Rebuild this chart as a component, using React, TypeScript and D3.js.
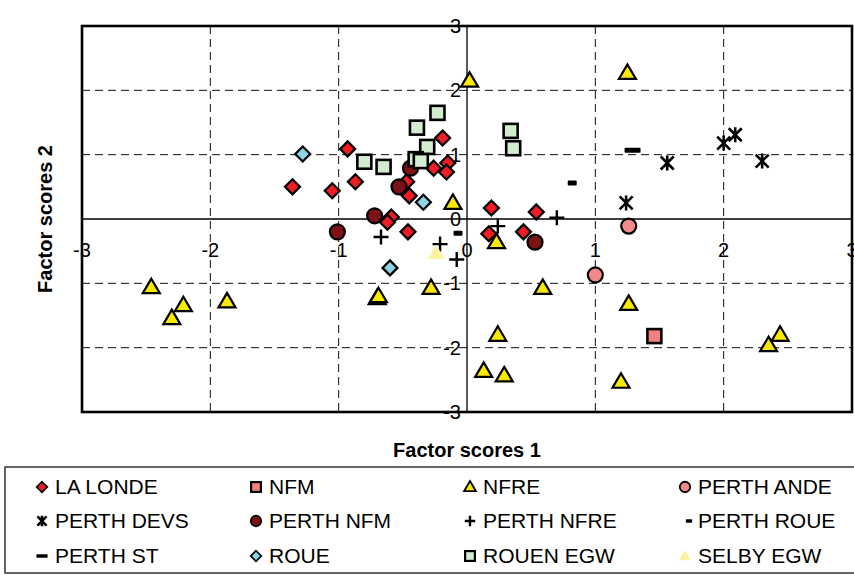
import React from 'react';
import * as d3 from 'd3';

type Pt = [number, number];

// Factor scores (x = factor 1, y = factor 2) per site
const laLonde: Pt[] = [
  [-0.93, 1.09], [-1.36, 0.5], [-1.05, 0.44], [-0.87, 0.58], [-0.19, 1.26],
  [-0.15, 0.87], [-0.26, 0.79], [-0.16, 0.73], [-0.47, 0.58], [-0.45, 0.36],
  [-0.59, 0.03], [-0.62, -0.05], [-0.46, -0.2], [0.19, 0.17], [0.54, 0.11],
  [0.17, -0.23], [0.44, -0.2],
];
const nfm: Pt[] = [[1.46, -1.82]];
const nfre: Pt[] = [
  [-2.46, -1.06], [-2.21, -1.34], [-2.3, -1.54], [-1.87, -1.28], [-0.7, -1.23],
  [-0.69, -1.2], [-0.28, -1.07], [0.23, -0.36], [0.59, -1.07], [0.24, -1.8],
  [0.13, -2.36], [0.29, -2.43], [1.26, -1.32], [1.2, -2.53], [0.02, 2.15],
  [1.25, 2.27], [-0.11, 0.25], [2.35, -1.96], [2.44, -1.8],
];
const perthAnde: Pt[] = [[1.26, -0.11], [1.0, -0.87]];
const perthDevs: Pt[] = [[1.56, 0.87], [2.0, 1.18], [2.09, 1.31], [2.3, 0.9], [1.24, 0.25]];
const perthNfm: Pt[] = [[-0.44, 0.79], [-0.53, 0.5], [-1.01, -0.2], [-0.72, 0.05], [0.53, -0.36]];
const perthNfre: Pt[] = [[-0.67, -0.28], [-0.21, -0.39], [-0.08, -0.63], [0.24, -0.11], [0.7, 0.02]];
const perthRoue: Pt[] = [[0.82, 0.56], [-0.07, -0.22]];
const perthSt: Pt[] = [[1.29, 1.07]];
const roue: Pt[] = [[-1.28, 1.01], [-0.34, 0.26], [-0.6, -0.76]];
const rouenEgw: Pt[] = [
  [-0.8, 0.89], [-0.65, 0.81], [-0.39, 1.42], [-0.31, 1.12], [-0.23, 1.65],
  [-0.4, 0.93], [-0.36, 0.9], [0.34, 1.37], [0.36, 1.1],
];
const selbyEgw: Pt[] = [[-0.24, -0.53]];

const xTicks = [-3, -2, -1, 0, 1, 2, 3];
const yTicks = [3, 2, 1, 0, -1, -2, -3];
const gridVals = [-2, -1, 1, 2];

type Shape = 'diamond' | 'square' | 'triangle' | 'circle' | 'asterisk' | 'plus' | 'dash' | 'bar';

interface Series {
  name: string;
  data: Pt[];
  shape: Shape;
  fill: string;
  stroke: boolean;
}

const series: Series[] = [
  { name: 'LA LONDE', data: laLonde, shape: 'diamond', fill: '#ee1c24', stroke: true },
  { name: 'NFM', data: nfm, shape: 'square', fill: '#f28080', stroke: true },
  { name: 'NFRE', data: nfre, shape: 'triangle', fill: '#f7ea00', stroke: true },
  { name: 'PERTH ANDE', data: perthAnde, shape: 'circle', fill: '#f28a8a', stroke: true },
  { name: 'PERTH DEVS', data: perthDevs, shape: 'asterisk', fill: 'none', stroke: true },
  { name: 'PERTH NFM', data: perthNfm, shape: 'circle', fill: '#7d1214', stroke: true },
  { name: 'PERTH NFRE', data: perthNfre, shape: 'plus', fill: 'none', stroke: true },
  { name: 'PERTH ROUE', data: perthRoue, shape: 'dash', fill: '#000', stroke: false },
  { name: 'PERTH ST', data: perthSt, shape: 'bar', fill: '#000', stroke: false },
  { name: 'ROUE', data: roue, shape: 'diamond', fill: '#8ed4e2', stroke: true },
  { name: 'ROUEN EGW', data: rouenEgw, shape: 'square', fill: '#d3ebcf', stroke: true },
  { name: 'SELBY EGW', data: selbyEgw, shape: 'triangle', fill: '#fbf3a0', stroke: false },
];

const FONT = '"Liberation Sans", Arial, sans-serif';

function Marker({ s, cx, cy, k }: { s: Series; cx: number; cy: number; k: number }) {
  const sw = 2.2 * (k < 1 ? 0.8 : 1);
  const st = s.stroke ? '#000' : 'none';
  const t = `translate(${cx},${cy}) scale(${k})`;
  switch (s.shape) {
    case 'diamond':
      return <path transform={t} d="M0,-7.5L7.5,0L0,7.5L-7.5,0Z" fill={s.fill} stroke={st} strokeWidth={sw / k} />;
    case 'square':
      return <rect transform={t} x={-7} y={-7} width={14} height={14} fill={s.fill} stroke={st} strokeWidth={(sw + 0.4) / k} />;
    case 'triangle':
      return <path transform={t} d="M0,-8.5L8.5,6L-8.5,6Z" fill={s.fill} stroke={st} strokeWidth={sw / k} strokeLinejoin="miter" />;
    case 'circle':
      return <circle transform={t} r={7.5} fill={s.fill} stroke={st} strokeWidth={sw / k} />;
    case 'asterisk':
      return <path transform={t} d="M-6.5,-6.5L6.5,6.5M-6.5,6.5L6.5,-6.5M0,-7.5V7.5" fill="none" stroke="#000" strokeWidth={2.6 / k} />;
    case 'plus':
      return <path transform={t} d="M-7.5,0H7.5M0,-7.5V7.5" fill="none" stroke="#000" strokeWidth={2.4 / k} />;
    case 'dash':
      return <rect transform={t} x={-4.5} y={-2.5} width={9} height={5} rx={1} fill="#000" />;
    case 'bar':
      return <rect transform={t} x={-8} y={-2.5} width={16} height={5} rx={1} fill="#000" />;
  }
  return null;
}

export default function App() {
  const W = 854;
  const H = 575;
  const x = d3.scaleLinear().domain([-3, 3]).range([82, 852]);
  const y = d3.scaleLinear().domain([-3, 3]).range([412, 26]);
  const x0 = x(0);
  const y0 = y(0);

  const legCols = [42, 256, 470, 685];
  const legRows = [487, 521, 556];

  return (
    <svg
      width={W}
      height={H}
      style={{ position: 'absolute', left: 0, top: 0, background: '#fff' }}
      fontFamily={FONT}
    >
      <rect x={0} y={0} width={W} height={H} fill="#fff" />

      {/* dashed grid */}
      {gridVals.map((v) => (
        <line key={`gx${v}`} x1={x(v)} x2={x(v)} y1={y(3)} y2={y(-3)} stroke="#111" strokeWidth={1} strokeDasharray="8,5" />
      ))}
      {gridVals.map((v) => (
        <line key={`gy${v}`} x1={x(-3)} x2={x(3)} y1={y(v)} y2={y(v)} stroke="#111" strokeWidth={1} strokeDasharray="8,5" />
      ))}

      {/* zero axes */}
      <line x1={x(-3)} x2={x(3)} y1={y0} y2={y0} stroke="#000" strokeWidth={1.3} />
      <line x1={x0} x2={x0} y1={y(3)} y2={y(-3)} stroke="#000" strokeWidth={1.3} />

      {/* tick labels */}
      {xTicks.map((v) => (
        <text key={`tx${v}`} x={x(v)} y={y0 + 38} textAnchor="middle" fontSize={20} fill="#000">
          {v}
        </text>
      ))}
      {yTicks.map((v) => (
        <text key={`ty${v}`} x={x0 - 6} y={y(v) + 7} textAnchor="end" fontSize={20} fill="#000">
          {v}
        </text>
      ))}

      {/* points */}
      {series.map((s) =>
        s.data.map((p, i) => <Marker key={`${s.name}-${i}`} s={s} cx={x(p[0])} cy={y(p[1])} k={1} />)
      )}

      {/* plot frame */}
      <rect x={x(-3)} y={y(3)} width={x(3) - x(-3)} height={y(-3) - y(3)} fill="none" stroke="#000" strokeWidth={2.6} />

      {/* axis titles */}
      <text x={x0} y={457} textAnchor="middle" fontSize={20} fontWeight="bold" fill="#000">
        Factor scores 1
      </text>
      <text transform={`translate(52,${y0}) rotate(-90)`} textAnchor="middle" fontSize={20} fontWeight="bold" fill="#000">
        Factor scores 2
      </text>

      {/* legend */}
      <rect x={5} y={467} width={W + 10} height={106} fill="#fff" stroke="#333" strokeWidth={1.5} />
      {series.map((s, i) => {
        const cx = legCols[i % 4];
        const cy = legRows[Math.floor(i / 4)];
        const mx = s.shape === 'dash' ? cx + 4 : cx;
        return (
          <g key={`leg-${s.name}`}>
            <Marker s={s} cx={mx} cy={cy} k={0.7} />
            <text x={cx + 13} y={cy + 7} fontSize={21} fill="#000">
              {s.name}
            </text>
          </g>
        );
      })}
    </svg>
  );
}
